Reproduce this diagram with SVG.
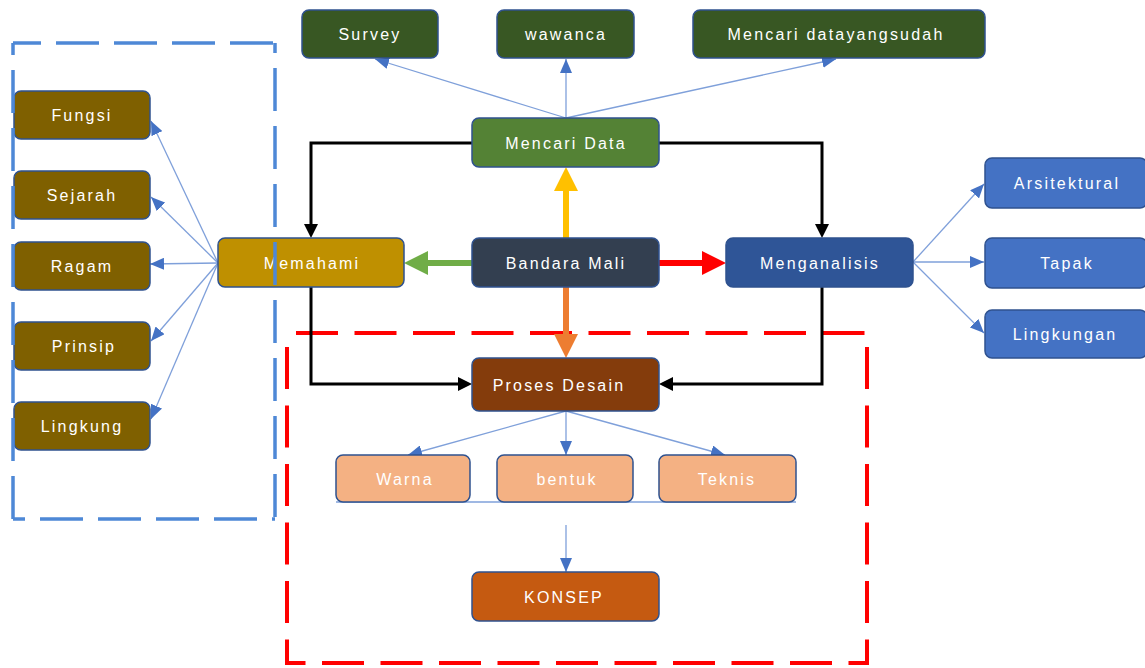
<svg xmlns="http://www.w3.org/2000/svg" width="1145" height="668" viewBox="0 0 1145 668">
<defs>
<style>
.n rect{stroke:#2F528F;stroke-width:1.5}
.n text{font-family:"Liberation Sans",Arial,sans-serif;font-size:16px;fill:#fff;text-anchor:middle;letter-spacing:2.2px}
.dg{fill:#385723}.gr{fill:#548235}.sl{fill:#333F50}.go{fill:#BF9000}.nb{fill:#2F5597}
.br{fill:#843C0C}.pe{fill:#F4B183}.ko{fill:#C55A11}.ol{fill:#7F6000}.bl{fill:#4472C4}
.thin{stroke:#7FA0DA;stroke-width:1.3;fill:none;marker-end:url(#mb)}
.blk{stroke:#000;stroke-width:3;fill:none;marker-end:url(#mk)}
.bf{stroke:#4E88D6;stroke-width:3.5;fill:none;stroke-dasharray:43 15}
</style>
<marker id="mb" markerUnits="userSpaceOnUse" markerWidth="14" markerHeight="12" refX="14" refY="6" orient="auto"><path d="M0,0 L14,6 L0,12 z" fill="#4472C4"/></marker>
<marker id="mk" markerUnits="userSpaceOnUse" markerWidth="14" markerHeight="14" refX="2" refY="7" orient="auto"><path d="M0,0 L14,7 L0,14 z" fill="#000"/></marker>
<marker id="my" markerUnits="userSpaceOnUse" markerWidth="24" markerHeight="24" refX="4" refY="12" orient="auto"><path d="M0,0 L24,12 L0,24 z" fill="#FFC000"/></marker>
<marker id="mg" markerUnits="userSpaceOnUse" markerWidth="24" markerHeight="24" refX="4" refY="12" orient="auto"><path d="M0,0 L24,12 L0,24 z" fill="#70AD47"/></marker>
<marker id="mr" markerUnits="userSpaceOnUse" markerWidth="24" markerHeight="24" refX="4" refY="12" orient="auto"><path d="M0,0 L24,12 L0,24 z" fill="#FF0000"/></marker>
<marker id="mo" markerUnits="userSpaceOnUse" markerWidth="24" markerHeight="24" refX="4" refY="12" orient="auto"><path d="M0,0 L24,12 L0,24 z" fill="#ED7D31"/></marker>
</defs>
<rect width="1145" height="668" fill="#fff"/>
<rect id="red-frame" x="287" y="333" width="580" height="330" fill="none" stroke="#FF0000" stroke-width="4" stroke-dasharray="42 16.5" stroke-dashoffset="49.5"/>
<g id="connectors">
<line class="thin" x1="566" y1="118" x2="375" y2="59"/>
<line class="thin" x1="566" y1="118" x2="566" y2="59"/>
<line class="thin" x1="566" y1="118" x2="836" y2="59"/>
<line class="thin" x1="218" y1="263" x2="151" y2="121"/>
<line class="thin" x1="218" y1="263" x2="151" y2="197"/>
<line class="thin" x1="218" y1="263" x2="150" y2="264"/>
<line class="thin" x1="218" y1="263" x2="151" y2="341"/>
<line class="thin" x1="218" y1="263" x2="151" y2="419"/>
<line class="thin" x1="913" y1="262" x2="984" y2="184"/>
<line class="thin" x1="913" y1="262" x2="984" y2="262"/>
<line class="thin" x1="913" y1="262" x2="984" y2="333"/>
<line class="thin" x1="566" y1="411" x2="408" y2="455"/>
<line class="thin" x1="566" y1="411" x2="566" y2="455"/>
<line class="thin" x1="566" y1="411" x2="725" y2="455"/>
<line x1="336" y1="502" x2="796" y2="502" stroke="#7FA0DA" stroke-width="1.3"/>
<line class="thin" x1="566" y1="525" x2="566" y2="572"/>
<path class="blk" d="M472,143 H311 V226"/>
<path class="blk" d="M659,143 H822 V226"/>
<path class="blk" d="M311,287 V384 H460"/>
<path class="blk" d="M822,287 V384 H671"/>
<line x1="566" y1="238" x2="566" y2="187" stroke="#FFC000" stroke-width="6" marker-end="url(#my)"/>
<line x1="472" y1="263" x2="424" y2="263" stroke="#70AD47" stroke-width="6" marker-end="url(#mg)"/>
<line x1="659" y1="263" x2="706" y2="263" stroke="#FF0000" stroke-width="6" marker-end="url(#mr)"/>
<line x1="566" y1="287" x2="566" y2="338" stroke="#ED7D31" stroke-width="6" marker-end="url(#mo)"/>
</g>
<g id="survey" class="n"><rect class="dg" x="302" y="10" width="136" height="48" rx="7"/><text x="370" y="40">Survey</text></g>
<g id="wawanca" class="n"><rect class="dg" x="497" y="10" width="137" height="48" rx="7"/><text x="566" y="40">wawanca</text></g>
<g id="mencari-data-yang-sudah" class="n"><rect class="dg" x="693" y="10" width="292" height="48" rx="7"/><text x="836" y="40">Mencari datayangsudah</text></g>
<g id="mencari-data" class="n"><rect class="gr" x="472" y="118" width="187" height="49" rx="7"/><text x="566" y="149">Mencari Data</text></g>
<g id="bandara-mali" class="n"><rect class="sl" x="472" y="238" width="187" height="49" rx="7"/><text x="566" y="269">Bandara Mali</text></g>
<g id="memahami" class="n"><rect class="go" x="218" y="238" width="186" height="49" rx="7"/><text x="312" y="269">Memahami</text></g>
<g id="menganalisis" class="n"><rect class="nb" x="726" y="238" width="187" height="49" rx="7"/><text x="820" y="269">Menganalisis</text></g>
<g id="proses-desain" class="n"><rect class="br" x="472" y="358" width="187" height="53" rx="7"/><text x="559" y="391">Proses Desain</text></g>
<g id="warna" class="n"><rect class="pe" x="336" y="455" width="134" height="47" rx="7"/><text x="405" y="485">Warna</text></g>
<g id="bentuk" class="n"><rect class="pe" x="497" y="455" width="136" height="47" rx="7"/><text x="567" y="485">bentuk</text></g>
<g id="teknis" class="n"><rect class="pe" x="659" y="455" width="137" height="47" rx="7"/><text x="727" y="485">Teknis</text></g>
<g id="konsep" class="n"><rect class="ko" x="472" y="572" width="187" height="49" rx="7"/><text x="564" y="603">KONSEP</text></g>
<g id="fungsi" class="n"><rect class="ol" x="14" y="91" width="136" height="48" rx="7"/><text x="82" y="121">Fungsi</text></g>
<g id="sejarah" class="n"><rect class="ol" x="14" y="171" width="136" height="48" rx="7"/><text x="82" y="201">Sejarah</text></g>
<g id="ragam" class="n"><rect class="ol" x="14" y="242" width="136" height="48" rx="7"/><text x="82" y="272">Ragam</text></g>
<g id="prinsip" class="n"><rect class="ol" x="14" y="322" width="136" height="48" rx="7"/><text x="84" y="352">Prinsip</text></g>
<g id="lingkung" class="n"><rect class="ol" x="14" y="402" width="136" height="48" rx="7"/><text x="82" y="432">Lingkung</text></g>
<g id="arsitektural" class="n"><rect class="bl" x="985" y="158" width="162" height="50" rx="7"/><text x="1067" y="189">Arsitektural</text></g>
<g id="tapak" class="n"><rect class="bl" x="985" y="238" width="162" height="50" rx="7"/><text x="1067" y="269">Tapak</text></g>
<g id="lingkungan" class="n"><rect class="bl" x="985" y="310" width="162" height="48" rx="7"/><text x="1065" y="340">Lingkungan</text></g>
<g id="blue-frame">
<line class="bf" x1="13" y1="43" x2="275" y2="43" stroke-dashoffset="15"/>
<line class="bf" x1="275" y1="43" x2="275" y2="519" stroke-dashoffset="33"/>
<line class="bf" x1="275" y1="519" x2="13" y2="519" stroke-dashoffset="40"/>
<line class="bf" x1="13" y1="519" x2="13" y2="43" stroke-dashoffset="0"/>
</g>
</svg>
